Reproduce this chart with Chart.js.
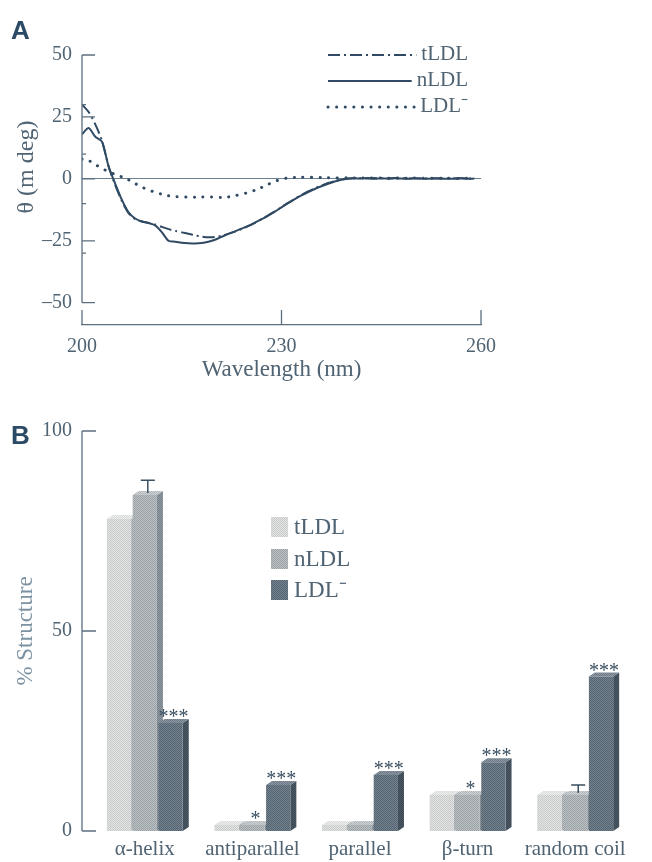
<!DOCTYPE html>
<html>
<head>
<meta charset="utf-8">
<script src="https://cdn.jsdelivr.net/npm/chart.js@4.4.1/dist/chart.umd.min.js"></script>
<style>
  body { margin: 0; background: #fff; width: 652px; height: 862px; position: relative; overflow: hidden; }
  .panel { position: absolute; left: 0; width: 652px; }
  #boxA { top: 0; height: 400px; }
  #boxB { top: 400px; height: 462px; }
  .tag { position: absolute; left: 11px; font: bold 26px "Liberation Sans", Arial, sans-serif; line-height: 1; color: #2b4a66; }
</style>
</head>
<body>
<div class="panel" id="boxA"><canvas id="cdChart" width="652" height="400"></canvas></div>
<div class="panel" id="boxB"><canvas id="structChart" width="652" height="462"></canvas></div>
<div class="tag" style="top:17px">A</div>
<div class="tag" style="top:422px">B</div>
<script>
// ---- panel A: CD spectra ----
const wavelengths = [200,201,202,203,204,205,206,207,208,209,210,211,212,213,214,215,216,217,218,219,
  220,221,222,223,224,225,226,227,228,229,230,231,232,233,234,235,236,237,238,239,
  240,241,242,243,244,245,246,247,248,249,250,251,252,253,254,255,256,257,258,259];
const tLDL = [30,27,22,15.5,5,-2.5,-9,-13.8,-16.3,-17.2,-17.8,-18.4,-19.4,-20.3,-21,-21.6,-22.2,-22.8,-23.3,-23.6,
  -23.5,-23,-22.2,-21.3,-20.2,-19.1,-17.8,-16.3,-14.7,-13.1,-11.4,-9.7,-8.1,-6.5,-5.1,-3.8,-2.7,-1.7,-0.9,-0.3,
  0.1,0.3,0.2,0.1,0.3,0.2,0.1,0.2,0.3,0.1,0.2,0.1,0.2,0.1,0.2,0.1,0.1,0.2,0.1,0.1];
const nLDL = [18,20.5,17,15,5,-2,-8.5,-13.5,-16,-17.2,-17.8,-18.8,-21.5,-25,-25.4,-25.8,-26,-26.1,-25.9,-25.4,
  -24.6,-23.4,-22.2,-21.2,-20.1,-19,-17.7,-16.3,-14.8,-13.2,-11.5,-9.8,-8.2,-6.7,-5.3,-4.1,-3,-2,-1.1,-0.4,
  0,0.2,0.1,0.3,0,0.2,0.1,0.3,0.1,0,0.2,0.1,0,0.2,0.1,0,0.1,0.2,0,0.1];
const ldlMinus = [8,7.4,5.8,4.2,2.9,1.8,0.8,-0.4,-1.9,-3.3,-4.5,-5.4,-6.2,-6.8,-7.2,-7.3,-7.4,-7.4,-7.3,-7.3,
  -7.4,-7.5,-7.3,-6.8,-6.2,-5.5,-4.6,-3.5,-2.2,-1,-0.2,0.4,0.6,0.7,0.6,0.6,0.5,0.5,0.4,0.4,
  0.4,0.3,0.3,0.4,0.3,0.3,0.2,0.3,0.3,0.2,0.3,0.2,0.3,0.2,0.2,0.3,0.2,0.2,0.3,0.2];
const yTicksA = [-50,-30,-25,-10,0,10,25,30,50];
const yLabelsA = [-50,-25,0,25,50];
const xTicksA = [200,230,260];

// ---- panel B: secondary structure ----
const categories = ['α-helix','antiparallel','parallel','β-turn','random coil'];
const tLDLpct = [78,1.5,1.5,9,9];
const nLDLpct = [84,1.5,1.5,9,9];
const ldlMinusPct = [27,11.5,14,17.2,38.6];
const nLDLerr = [3.7,0,0,0,2.5];
const nLDLsig = ['','*','','*',''];
const ldlMinusSig = ['***','***','***','***','***'];
const yTicksB = [0,50,100];

const serif = '"Liberation Serif", "Times New Roman", serif';
const textColor = '#4f6373';
const axisColor = '#5b6f7f';
const lineColor = '#2f4a62';
Chart.defaults.font.family = serif;
Chart.defaults.color = textColor;

const dash = v => (v < 0 ? '–' + Math.abs(v) : String(v));
const pts = arr => wavelengths.map((w, i) => ({ x: w, y: arr[i] }));

const cdFrame = {
  id: 'cdFrame',
  afterDraw(chart) {
    const { ctx, chartArea, scales: { x, y } } = chart;
    const ax = chartArea.left;
    ctx.save();
    ctx.strokeStyle = axisColor;
    ctx.lineWidth = 1.3;
    ctx.beginPath();
    ctx.moveTo(ax, y.getPixelForValue(50));
    ctx.lineTo(ax, y.getPixelForValue(-50));
    yTicksA.forEach(v => {
      const py = y.getPixelForValue(v);
      ctx.moveTo(ax, py);
      ctx.lineTo(ax + (yLabelsA.includes(v) ? 13 : 4), py);
    });
    xTicksA.forEach(v => {
      const px = x.getPixelForValue(v);
      ctx.moveTo(px, chartArea.bottom);
      ctx.lineTo(px, chartArea.bottom - 15);
    });
    ctx.stroke();
    // y title, a little above the axis middle as in the print
    ctx.save();
    ctx.translate(27, 167);
    ctx.rotate(-Math.PI / 2);
    ctx.font = '24px ' + serif;
    ctx.fillStyle = textColor;
    ctx.textAlign = 'center';
    ctx.textBaseline = 'middle';
    ctx.fillText('θ (m deg)', 0, 0);
    ctx.restore();
    // legend
    const rows = [[0, 54], [1, 80], [2, 106]];
    ctx.font = '21px ' + serif;
    ctx.textBaseline = 'middle';
    ctx.textAlign = 'right';
    rows.forEach(([d, ry]) => {
      const ds = chart.data.datasets[d];
      const tw = ctx.measureText(ds.label).width;
      ctx.fillStyle = textColor;
      ctx.fillText(ds.label, 468, ry);
      ctx.strokeStyle = ds.borderColor;
      ctx.lineWidth = ds.borderWidth;
      ctx.lineCap = ds.borderCapStyle || 'butt';
      ctx.setLineDash(ds.borderDash || []);
      ctx.beginPath();
      ctx.moveTo(328, ry + 1);
      ctx.lineTo(468 - tw - 5, ry + 1);
      ctx.stroke();
    });
    ctx.restore();
  }
};

new Chart(document.getElementById('cdChart'), {
  type: 'line',
  data: {
    datasets: [
      { label: 'tLDL', data: pts(tLDL), borderColor: lineColor, borderWidth: 2, borderDash: [12, 4, 2, 4], pointRadius: 0, tension: 0.25 },
      { label: 'nLDL', data: pts(nLDL), borderColor: lineColor, borderWidth: 2, pointRadius: 0, tension: 0.25 },
      { label: 'LDL⁻', data: pts(ldlMinus), borderColor: lineColor, borderWidth: 3, borderDash: [0.1, 8.5], borderCapStyle: 'round', pointRadius: 0, tension: 0.25 }
    ]
  },
  options: {
    responsive: false,
    animation: false,
    layout: { padding: { top: 55, right: 171, bottom: 0, left: 0 } },
    plugins: { legend: { display: false }, tooltip: { enabled: false } },
    scales: {
      x: {
        type: 'linear', min: 200, max: 260,
        afterBuildTicks: s => { s.ticks = xTicksA.map(v => ({ value: v })); },
        afterFit: s => { s.height = 75; },
        grid: { display: false, drawTicks: false },
        border: { display: true, color: axisColor, width: 1.3 },
        ticks: { autoSkip: false, maxRotation: 0, padding: 10, font: { size: 20 }, callback: v => String(v) },
        title: { display: true, text: 'Wavelength (nm)', font: { size: 23 }, padding: { top: 0, bottom: 16 } }
      },
      y: {
        min: -59, max: 50,
        afterBuildTicks: s => { s.ticks = yTicksA.map(v => ({ value: v })); },
        afterFit: s => { s.width = 82; },
        grid: { drawTicks: false, color: c => (c.tick && c.tick.value === 0 ? '#6d808f' : 'rgba(0,0,0,0)'), lineWidth: 1 },
        border: { display: false },
        ticks: { autoSkip: false, padding: 10, font: { size: 20 }, callback: v => (yLabelsA.includes(v) ? dash(v) : '') }
      }
    }
  },
  plugins: [cdFrame]
});

// ---- bars with a pseudo 3D look ----
const cvB = document.getElementById('structChart');
const gB = cvB.getContext('2d');
function dither(c1, c2) {
  const p = document.createElement('canvas');
  p.width = 2; p.height = 2;
  const g = p.getContext('2d');
  g.fillStyle = c1; g.fillRect(0, 0, 2, 2);
  g.fillStyle = c2; g.fillRect(0, 0, 1, 1); g.fillRect(1, 1, 1, 1);
  return gB.createPattern(p, 'repeat');
}
const depth = { dx: 6, dy: 4 };

const bars3d = {
  id: 'bars3d',
  beforeDatasetsDraw(chart) {
    const ctx = chart.ctx;
    const { dx, dy } = depth;
    chart.data.labels.forEach((lab, i) => {
      chart.data.datasets.forEach((ds, d) => {
        const el = chart.getDatasetMeta(d).data[i];
        const { x, y, base, width } = el.getProps(['x', 'y', 'base', 'width'], true);
        const l = x - width / 2, r = x + width / 2;
        ctx.save();
        ctx.fillStyle = ds.sideFill;
        ctx.beginPath();
        ctx.moveTo(r, y); ctx.lineTo(r + dx, y - dy); ctx.lineTo(r + dx, base - dy); ctx.lineTo(r, base);
        ctx.closePath(); ctx.fill();
        ctx.fillStyle = ds.topFill;
        ctx.beginPath();
        ctx.moveTo(l, y); ctx.lineTo(l + dx, y - dy); ctx.lineTo(r + dx, y - dy); ctx.lineTo(r, y);
        ctx.closePath(); ctx.fill();
        ctx.restore();
        el.draw(ctx);
      });
    });
    return false;
  },
  afterDraw(chart) {
    const { ctx, chartArea, scales: { y } } = chart;
    const { dx, dy } = depth;
    const ax = chartArea.left - 9;
    ctx.save();
    // axis
    ctx.strokeStyle = axisColor;
    ctx.lineWidth = 1.3;
    ctx.beginPath();
    ctx.moveTo(ax, y.getPixelForValue(100));
    ctx.lineTo(ax, y.getPixelForValue(0));
    yTicksB.forEach(v => {
      const py = y.getPixelForValue(v);
      ctx.moveTo(ax, py);
      ctx.lineTo(ax + 14, py);
    });
    ctx.stroke();
    // error bars on nLDL
    const nMeta = chart.getDatasetMeta(1);
    ctx.strokeStyle = '#3a4f60';
    ctx.lineWidth = 1.5;
    nLDLerr.forEach((e, i) => {
      if (!e) return;
      const el = nMeta.data[i];
      const cx = el.x + dx / 2;
      const top = y.getPixelForValue(nLDLpct[i] + e);
      ctx.beginPath();
      ctx.moveTo(cx, el.y - dy / 2);
      ctx.lineTo(cx, top);
      ctx.moveTo(cx - 7, top);
      ctx.lineTo(cx + 7, top);
      ctx.stroke();
    });
    // significance marks
    ctx.fillStyle = '#3a4f60';
    ctx.font = '20px ' + serif;
    ctx.textAlign = 'center';
    ctx.textBaseline = 'alphabetic';
    const marks = [[1, nLDLsig], [2, ldlMinusSig]];
    marks.forEach(([d, sig]) => {
      const meta = chart.getDatasetMeta(d);
      sig.forEach((s, i) => {
        if (!s) return;
        const el = meta.data[i];
        ctx.fillText(s, el.x + dx / 2, el.y);
      });
    });
    // legend
    const rows = [[0, 527], [1, 559], [2, 590]];
    ctx.font = '23px ' + serif;
    ctx.textAlign = 'left';
    ctx.textBaseline = 'middle';
    rows.forEach(([d, cy]) => {
      const ds = chart.data.datasets[d];
      const yy = cy - 400;
      ctx.fillStyle = ds.backgroundColor;
      ctx.fillRect(271, yy - 10, 17, 20);
      ctx.fillStyle = textColor;
      ctx.fillText(ds.label, 294, yy + 1);
    });
    ctx.restore();
  }
};

new Chart(cvB, {
  type: 'bar',
  data: {
    labels: categories,
    datasets: [
      { label: 'tLDL', data: tLDLpct, backgroundColor: dither('#e3e3e2', '#c8cbcc'), topFill: dither('#eeeeed', '#d8dbdc'), sideFill: dither('#b7bcbf', '#a2a8ac') },
      { label: 'nLDL', data: nLDLpct, backgroundColor: dither('#bcc1c4', '#9aa2a7'), topFill: dither('#cdd1d3', '#b2b8bb'), sideFill: dither('#8f989e', '#78828a') },
      { label: 'LDL⁻', data: ldlMinusPct, backgroundColor: dither('#738290', '#56646f'), topFill: dither('#8995a0', '#6f7c87'), sideFill: dither('#4c5a66', '#3b4854') }
    ]
  },
  options: {
    responsive: false,
    animation: false,
    layout: { padding: { top: 25, right: 23, bottom: 0, left: 0 } },
    datasets: { bar: { categoryPercentage: 0.72, barPercentage: 0.94 } },
    plugins: { legend: { display: false }, tooltip: { enabled: false } },
    scales: {
      x: {
        afterFit: s => { s.height = 30; },
        grid: { display: false, drawTicks: false },
        border: { display: false },
        ticks: { autoSkip: false, maxRotation: 0, padding: 6, font: { size: 21 } }
      },
      y: {
        min: 0, max: 100,
        afterBuildTicks: s => { s.ticks = yTicksB.map(v => ({ value: v })); },
        afterFit: s => { s.width = 91; },
        grid: { display: false, drawTicks: false },
        border: { display: false },
        ticks: { padding: 19, font: { size: 20 } },
        title: { display: true, text: '% Structure', color: '#7d93a3', font: { size: 23 }, padding: { top: 12, bottom: 0 } }
      }
    }
  },
  plugins: [bars3d]
});
</script>
</body>
</html>
